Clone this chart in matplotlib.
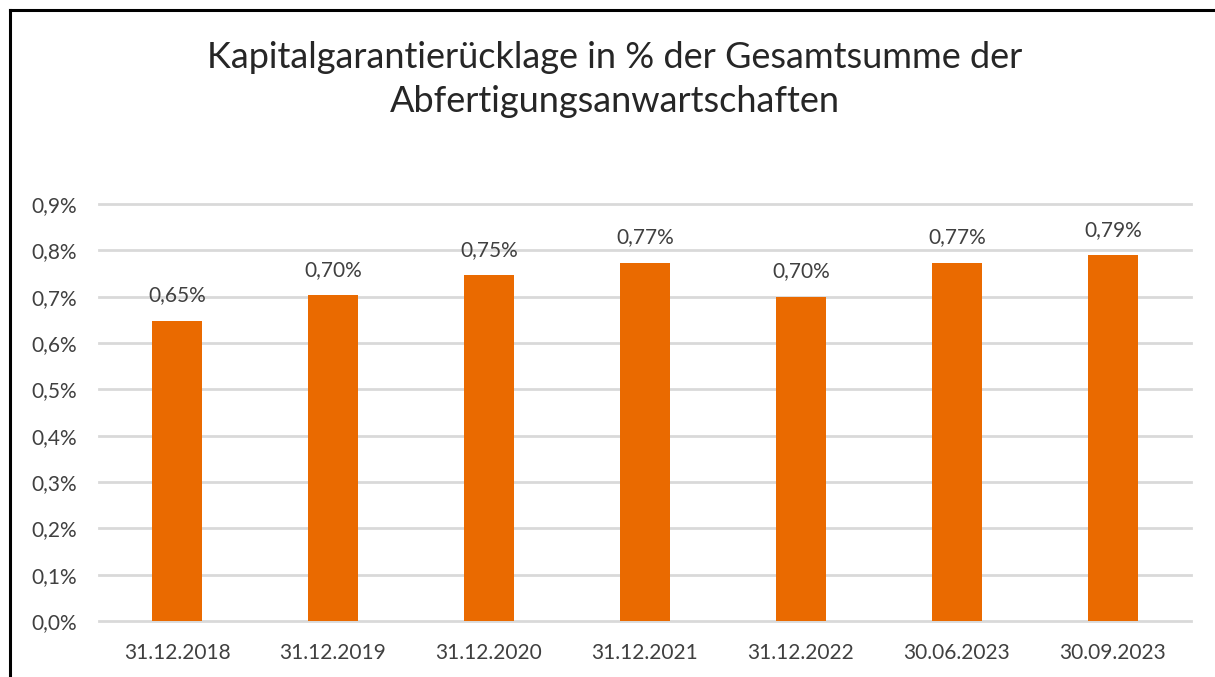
import matplotlib
matplotlib.use("Agg")
import matplotlib.pyplot as plt
from matplotlib.lines import Line2D
from matplotlib.ticker import FuncFormatter

# data
dates = ["31.12.2018", "31.12.2019", "31.12.2020", "31.12.2021",
         "31.12.2022", "30.06.2023", "30.09.2023"]
values = [0.648, 0.703, 0.747, 0.773, 0.700, 0.773, 0.789]  # in %
labels = ["0,65%", "0,70%", "0,75%", "0,77%", "0,70%", "0,77%", "0,79%"]
yticks = [0.0, 0.1, 0.2, 0.3, 0.4, 0.5, 0.6, 0.7, 0.8, 0.9]

bar_color = "#EA6A00"
text_color = "#404040"
grid_color = "#D9D9D9"

plt.rcParams['font.family'] = ['Lato', 'DejaVu Sans']

W, H = 1215, 677
fig = plt.figure(figsize=(W / 100, H / 100), dpi=100)
ax = fig.add_axes([99 / W, 1 - 621 / H, (1191 - 99) / W, (621 - 204) / H])

x = list(range(len(dates)))
bars = ax.bar(x, values, width=0.315, color=bar_color, zorder=3)

for xi, v, lab in zip(x, values, labels):
    ax.annotate(lab, (xi, v), xytext=(0, 11), textcoords="offset points",
                ha="center", va="bottom", fontsize=15, color=text_color)

ax.set_xlim(-0.5, len(dates) - 0.5)
ax.set_ylim(0, 0.9)
ax.set_yticks(yticks)
ax.yaxis.set_major_formatter(FuncFormatter(lambda v, p: f"{v:.1f}%".replace(".", ",")))
ax.set_xticks(x)
ax.set_xticklabels(dates)
ax.tick_params(axis="both", length=0, labelsize=15, colors=text_color)
ax.tick_params(axis="y", pad=16)
ax.tick_params(axis="x", pad=16)
ax.grid(axis="y", color=grid_color, linewidth=2, zorder=0)
for sp in ax.spines.values():
    sp.set_visible(False)
for gl in ax.get_ygridlines():
    gl.set_clip_on(False)

fig.text(615 / W, 1 - 57 / H, "Kapitalgarantierücklage in % der Gesamtsumme der",
         ha="center", va="center", fontsize=26, color="#262626")
fig.text(615 / W, 1 - 101 / H, "Abfertigungsanwartschaften",
         ha="center", va="center", fontsize=26, color="#262626")

# black frame (right and bottom edges are cut off in the reference)
fig.add_artist(Line2D([10 / W, 10 / W], [0, 1 - 10 / H], color="black", lw=2.2,
                      transform=fig.transFigure))
fig.add_artist(Line2D([10 / W, 1], [1 - 10 / H, 1 - 10 / H], color="black", lw=2.2,
                      transform=fig.transFigure))

fig.savefig("out.png", dpi=100, facecolor="white")
